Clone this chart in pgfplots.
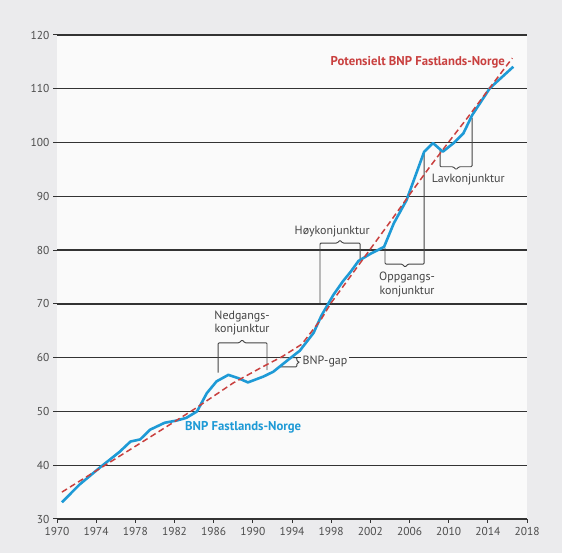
\documentclass[border=0pt]{standalone}
\usepackage{fontspec}
\setmainfont{PT Sans}
\usepackage{pgfplots}
\pgfplotsset{compat=1.18}
\definecolor{bg}{HTML}{EBEBED}
\definecolor{plotbg}{HTML}{FAFAFA}
\definecolor{bnpblue}{HTML}{1E9AD6}
\definecolor{potred}{HTML}{C9403F}
\definecolor{gridc}{HTML}{333333}
\definecolor{annot}{HTML}{444444}
\definecolor{tickc}{HTML}{4D4D4D}
\begin{document}
\begin{tikzpicture}[x=1bp,y=1bp]
\fill[bg] (0,0) rectangle (562,553);
\begin{axis}[
  at={(57bp,34bp)}, anchor=south west,
  scale only axis, width=470bp, height=484bp,
  xmin=1970, xmax=2018, ymin=30, ymax=120,
  axis background/.style={fill=plotbg},
  axis x line*=bottom, axis y line*=left,
  x axis line style={gridc, line width=1.4bp},
  y axis line style={draw=none},
  xtick={1970,1974,...,2018}, ytick={30,40,...,120},
  tick align=outside, major tick length=4bp,
  tick style={gridc, line width=1bp},
  ymajorgrids, grid style={gridc, line width=1.4bp},
  /pgf/number format/assume math mode=true,
  xticklabel style={/pgf/number format/1000 sep={}, font=\fontsize{11.5}{13}\selectfont, text=tickc, yshift=-0.5bp},
  yticklabel style={font=\fontsize{11.5}{13}\selectfont, text=tickc},
  clip=false,
]
% brackets
\draw[annot, line width=0.9bp, rounded corners=1bp]
  (1986.45,57.2) -- (1986.45,62.75) -- (1988.6,62.75) -- (1988.9,63.3) -- (1989.2,62.75) -- (1991.45,62.75) -- (1991.45,57.7);
\draw[annot, line width=0.9bp, rounded corners=1bp]
  (1992.8,60.0) -- (1994.5,60.0) -- (1994.5,59.35) -- (1994.8,59.15) -- (1994.5,58.95) -- (1994.5,58.3) -- (1992.8,58.3);
\draw[annot, line width=0.9bp, rounded corners=1bp]
  (1996.86,70.2) -- (1996.86,81.3) -- (1998.6,81.3) -- (1998.9,81.85) -- (1999.2,81.3) -- (2000.95,81.3) -- (2000.95,78.2);
\draw[annot, line width=0.9bp, rounded corners=1bp]
  (2003.5,80.4) -- (2003.5,77.4) -- (2005.25,77.4) -- (2005.55,76.85) -- (2005.85,77.4) -- (2007.49,77.4) -- (2007.49,98.25);
\draw[annot, line width=0.9bp, rounded corners=1bp]
  (2009.12,98.6) -- (2009.12,95.5) -- (2010.46,95.5) -- (2010.76,94.95) -- (2011.06,95.5) -- (2012.39,95.5) -- (2012.39,104.6);
% series
\addplot[bnpblue, line width=2.6bp, line join=round] coordinates {
(1970.5,33.1) (1972.3,36.4) (1974.4,39.6) (1976.4,42.5) (1977.5,44.4) (1978.5,44.8)
(1979.5,46.6) (1981,47.9) (1982.2,48.3) (1983.2,48.8) (1984.3,50.0) (1985.3,53.4)
(1986.3,55.6) (1987.5,56.8) (1988.5,56.2) (1989.5,55.4) (1991.1,56.5) (1992.1,57.4)
(1993.4,59.3) (1994.8,61.3) (1996.2,64.6) (1997.0,67.8) (1998.2,71.6) (1999.2,74.2)
(2000,76.0) (2000.8,78.0) (2002,79.3) (2003.4,80.6) (2004.4,85.0) (2005.7,89.3)
(2006.7,94.3) (2007.5,98.3) (2008.4,99.9) (2009.4,98.3) (2010.5,99.9) (2011.5,101.7)
(2012.4,105.1) (2014.2,110.1) (2016.6,114.1)};
\addplot[potred, line width=1.5bp, dash pattern=on 6bp off 3.5bp] coordinates {
(1970.5,35.0) (1975,40.1) (1980,45.8) (1984,50.4) (1988,55.3) (1991,58.3) (1993,60.2)
(1995,62.5) (1997,67.2) (1998,70.2) (2000,75.2) (2002,80.2) (2004,85.2) (2006,90.3)
(2008,95.3) (2010,100.1) (2012,104.8) (2014,109.7) (2016.5,115.7)};
% labels
\node[anchor=east, text=potred, font=\fontsize{12.8}{15}\bfseries, inner sep=0pt] at (2015.76,115.0) {Potensielt BNP Fastlands-Norge};
\node[anchor=west, text=bnpblue, font=\fontsize{12.8}{15}\bfseries, inner sep=0pt] at (1983.07,47.1) {BNP Fastlands-Norge};
\node[text=annot, font=\fontsize{12}{13.5}\selectfont, align=center, inner sep=0pt] at (1988.9,66.4) {Nedgangs-\\konjunktur};
\node[anchor=west, text=annot, font=\fontsize{12}{13.5}\selectfont, fill=plotbg, inner sep=1.5bp] at (1994.9,59.2) {BNP-gap};
\node[text=annot, font=\fontsize{12}{13.5}\selectfont, inner sep=0pt] at (1998.1,83.4) {Høykonjunktur};
\node[text=annot, font=\fontsize{12}{13.5}\selectfont, align=center, inner sep=0pt] at (2005.75,73.6) {Oppgangs-\\konjunktur};
\node[text=annot, font=\fontsize{12}{13.5}\selectfont, inner sep=0pt] at (2012.0,93.2) {Lavkonjunktur};
\end{axis}
\pgfresetboundingbox
\useasboundingbox (0,0) rectangle (562,553);
\end{tikzpicture}
\end{document}
